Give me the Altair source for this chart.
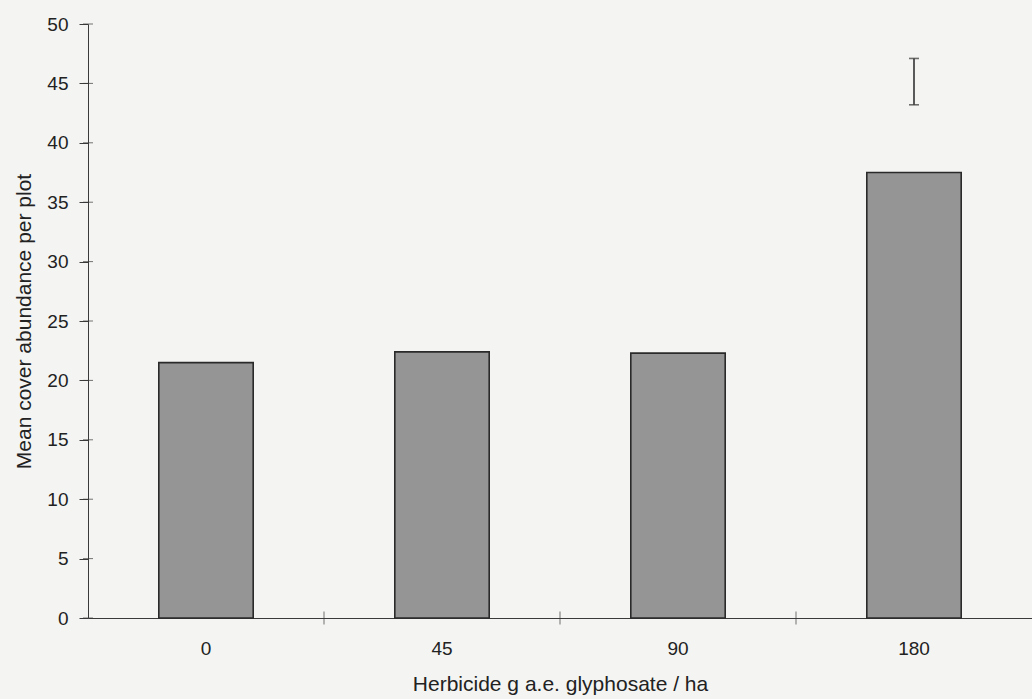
import altair as alt
import pandas as pd

# Data
categories = ["0", "45", "90", "180"]
cover = [21.5, 22.4, 22.3, 37.5]
boundary_cats = ["45", "90", "180"]
err_cat = ["180"]
err_low = [43.2]
err_high = [47.1]
y_ticks = [0, 5, 10, 15, 20, 25, 30, 35, 40, 45, 50]

df = pd.DataFrame({"dose": categories, "cover": cover})
bnd = pd.DataFrame({"dose": boundary_cats})
err = pd.DataFrame({"dose": err_cat, "lo": err_low, "hi": err_high})
ytk = pd.DataFrame({"v": y_ticks})

FONT = "Liberation Sans"
AX = "#3a3a3a"
TXT = "#222222"

xscale = alt.Scale(domain=categories, paddingInner=0, paddingOuter=0)
yscale = alt.Scale(domain=[0, 50], nice=False, zero=True)

x_axis = alt.Axis(
    title="Herbicide g a.e. glyphosate / ha",
    labelAngle=0, ticks=False, tickSize=0, labelPadding=21,
    labelFontSize=19, titleFontSize=21, titlePadding=15,
    domainColor=AX, labelColor=TXT, titleColor=TXT,
    labelFont=FONT, titleFont=FONT, titleFontWeight="normal",
    grid=False,
)
y_axis = alt.Axis(
    title="Mean cover abundance per plot",
    values=y_ticks, tickSize=9, labelPadding=11,
    labelFontSize=19, titleFontSize=21, titlePadding=12,
    domainColor=AX, tickColor=AX, labelColor=TXT, titleColor=TXT,
    labelFont=FONT, titleFont=FONT, titleFontWeight="normal",
    grid=False,
)

bars = alt.Chart(df).mark_bar(
    width=alt.RelativeBandSize(0.4), fill="#959595", stroke="#2a2a2a", strokeWidth=1.6
).encode(
    x=alt.X("dose:N", scale=xscale, sort=categories, axis=x_axis),
    y=alt.Y("cover:Q", scale=yscale, axis=y_axis),
)

# x-axis ticks sitting on category boundaries
bticks = alt.Chart(bnd).mark_tick(
    orient="vertical", size=13, thickness=1, color=AX
).encode(
    x=alt.X("dose:N", scale=xscale, sort=categories, bandPosition=0),
    y=alt.datum(0),
)

# inner half of the crossing y-axis ticks
yinner = alt.Chart(ytk).mark_tick(
    orient="horizontal", size=10, thickness=1, color=AX
).encode(
    x=alt.value(0),
    y=alt.Y("v:Q", scale=yscale),
)

err_rule = alt.Chart(err).mark_rule(color="#333333", strokeWidth=1.6).encode(
    x=alt.X("dose:N", scale=xscale, sort=categories),
    y=alt.Y("lo:Q", scale=yscale),
    y2="hi:Q",
)
err_lo = alt.Chart(err).mark_tick(orient="horizontal", size=10, thickness=1.6, color="#333333").encode(
    x=alt.X("dose:N", scale=xscale, sort=categories),
    y=alt.Y("lo:Q", scale=yscale),
)
err_hi = alt.Chart(err).mark_tick(orient="horizontal", size=10, thickness=1.6, color="#333333").encode(
    x=alt.X("dose:N", scale=xscale, sort=categories),
    y=alt.Y("hi:Q", scale=yscale),
)

chart = alt.layer(bars, bticks, yinner, err_rule, err_lo, err_hi).properties(
    width=944,
    height=594,
    autosize=alt.AutoSizeParams(type="none"),
    padding={"left": 88, "top": 24, "right": 0, "bottom": 81},
    background="#f4f5f2",
).configure_view(strokeWidth=0)

chart.save("out.html", embed_options={"renderer": "svg", "actions": False})
